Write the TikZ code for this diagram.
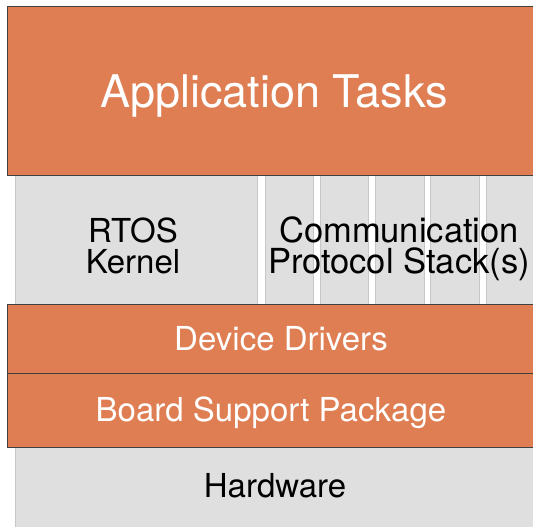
\documentclass[tikz,border=0pt]{standalone}
\usepackage{fontspec}
\setsansfont{TeX Gyre Heros}
\usepackage{tikz}
\definecolor{layerorange}{RGB}{223,126,82}
\definecolor{layergray}{RGB}{223,223,223}

\begin{document}
\begin{tikzpicture}[
  x=1bp, y=-1bp,
  font=\sffamily,
  mid/.style={font=\sffamily\fontsize{33bp}{31bp}\selectfont},
  big/.style={font=\sffamily\fontsize{45bp}{45bp}\selectfont, text height=32.3bp, text depth=0pt},
  layer/.style={draw=black!75, fill=layerorange, line width=1bp, inner sep=0pt, text=white, mid, text height=23.7bp, text depth=0pt},
  block/.style={draw=black!22, fill=layergray, line width=1bp, inner sep=0pt, mid, text height=23.7bp, text depth=0pt},
  lab/.style={mid, align=center, inner sep=0pt, anchor=north},
]
\useasboundingbox (0,0) rectangle (533,527);
\clip (0,0) rectangle (533,527);
% ---- grey blocks: kernel, protocol stack slices, hardware ----
\node[block, minimum width=241bp, minimum height=129bp] (rtos) at (136.5,239.5) {};
\foreach \i in {0,...,4}
  \node[block, minimum width=48.5bp, minimum height=129bp] (stack\i) at (289.25+55.3*\i,239.5) {};
\node[lab] (rtoslab) at (133,217.5) {RTOS\\Kernel};
\node[lab, font=\sffamily\fontsize{34.5bp}{31bp}\selectfont] (stacklab) at (399,217) {Communication\\Protocol Stack(s)};
\node[block, minimum width=518bp, minimum height=82bp] (hw) at (275,486) {Hardware};
% ---- orange layers ----
\node[layer, big, minimum width=532bp, minimum height=168bp] (app) at (274,91) {Application Tasks};
\node[layer, minimum width=546bp, minimum height=69bp] (drv) at (281,338.5) {Device Drivers};
\node[layer, minimum width=526bp, minimum height=74bp] (bsp) at (271,410) {Board Support Package};
\end{tikzpicture}
\end{document}
